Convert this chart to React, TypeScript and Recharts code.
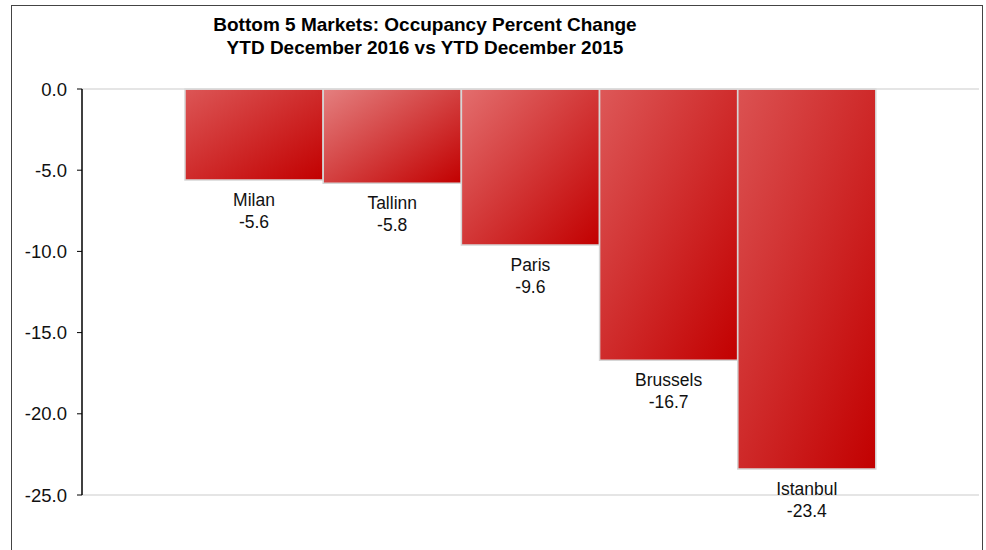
import { Bar, BarChart, Cell, LabelList, ReferenceLine, XAxis, YAxis } from "recharts";

const markets = ["Milan", "Tallinn", "Paris", "Brussels", "Istanbul"];
const changes = [-5.6, -5.8, -9.6, -16.7, -23.4];
const yTicks = [0, -5, -10, -15, -20, -25];
const lightStops = ["#dc5656", "#e48080", "#e36e6e", "#dd5858", "#db5252"];

const data = markets.map((market, i) => ({ market, change: changes[i] }));

const font = "'Liberation Sans', Arial, sans-serif";

function BarLabel(props: any) {
  const { x, y, width, height, index } = props;
  const bottom = Math.max(Number(y), Number(y) + Number(height));
  const cx = Number(x) + Number(width) / 2;
  return (
    <g>
      <text x={cx} y={bottom + 20} textAnchor="middle" dominantBaseline="central" fontSize={17.5} fill="#111" fontFamily={font}>
        {markets[index]}
      </text>
      <text x={cx} y={bottom + 42} textAnchor="middle" dominantBaseline="central" fontSize={17.5} fill="#111" fontFamily={font}>
        {changes[index].toFixed(1)}
      </text>
    </g>
  );
}

export default function App() {
  return (
    <div style={{ position: "absolute", left: 0, top: 0, width: 986, height: 550, background: "#fff", overflow: "hidden" }}>
      <div
        style={{
          position: "absolute",
          left: 11,
          top: 5,
          width: 972,
          height: 600,
          border: "1.5px solid #444",
          boxSizing: "border-box",
        }}
      />
      <div
        style={{
          position: "absolute",
          left: 0,
          width: 850,
          top: 13,
          textAlign: "center",
          fontFamily: font,
          fontWeight: "bold",
          fontSize: 19,
          lineHeight: "23px",
          color: "#000",
        }}
      >
        Bottom 5 Markets: Occupancy Percent Change
        <br />
        YTD December 2016 vs YTD December 2015
      </div>
      <div style={{ position: "absolute", left: 0, top: 0 }}>
        <BarChart width={986} height={550} data={data} margin={{ top: 89, right: 7, bottom: 55, left: 0 }} barCategoryGap={0}>
          <defs>
            {lightStops.map((c, i) => (
              <linearGradient key={i} id={`g${i}`} x1="0" y1="0" x2="1" y2="1">
                <stop offset="0%" stopColor={c} />
                <stop offset="100%" stopColor="#c20000" />
              </linearGradient>
            ))}
          </defs>
          <XAxis dataKey="market" hide padding={{ left: 103, right: 103 }} />
          <YAxis
            width={82}
            domain={[-25, 0]}
            ticks={yTicks}
            tickFormatter={(v) => Number(v).toFixed(1)}
            axisLine={{ stroke: "#000", strokeWidth: 1.5 }}
            tickLine={{ stroke: "#000" }}
            tickSize={5}
            tickMargin={10}
            tick={{ fill: "#111", fontSize: 18.5, fontFamily: font }}
          />
          <ReferenceLine y={0} stroke="#dcdcdc" strokeWidth={1.5} />
          <ReferenceLine y={-25} stroke="#dcdcdc" strokeWidth={1.5} />
          <Bar dataKey="change" isAnimationActive={false} stroke="#d6d6d6" strokeWidth={1.5}>
            {data.map((d, i) => (
              <Cell key={d.market} fill={`url(#g${i})`} />
            ))}
            <LabelList dataKey="change" content={<BarLabel />} />
          </Bar>
        </BarChart>
      </div>
    </div>
  );
}
